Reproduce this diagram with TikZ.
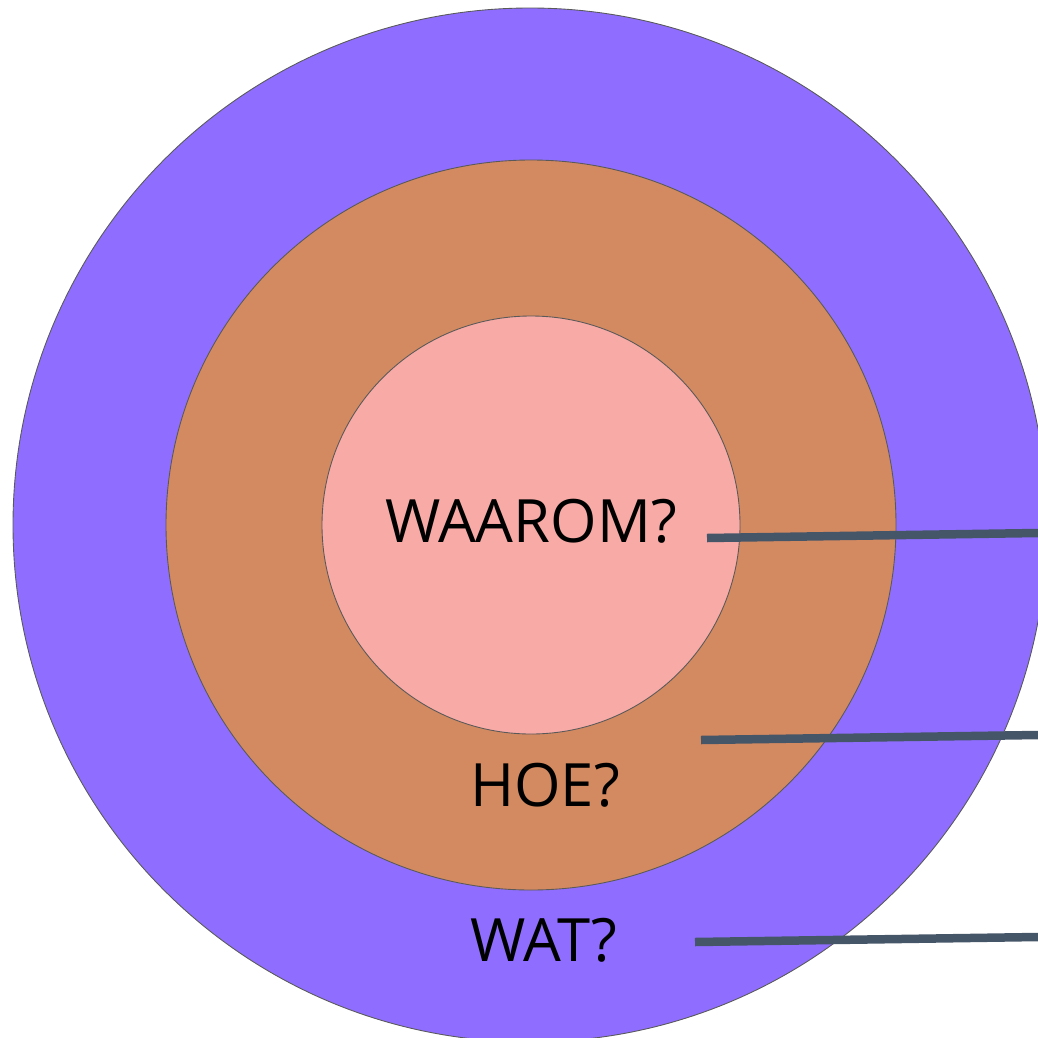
\documentclass[tikz,border=0pt]{standalone}
\usepackage{fontspec}
\setmainfont{Open Sans}
\usepackage{tikz}

\definecolor{watpurple}{HTML}{8F6EFF}
\definecolor{hoeorange}{HTML}{D38A60}
\definecolor{waarompink}{HTML}{F7AAA6}
\definecolor{leaderline}{HTML}{465669}

\begin{document}
\begin{tikzpicture}[x=0.02cm,y=-0.02cm,
    ring/.style={draw=black!65,line width=0.5pt},
    label/.style={font=\fontsize{34}{40}\selectfont,inner sep=0pt},
    leader/.style={draw=leaderline,line width=0.17cm}]
    \useasboundingbox (0,0) rectangle (1038,1038);
    \clip (0,0) rectangle (1038,1038);

    \filldraw [ring,fill=watpurple] (530,525) circle (517);
    \filldraw [ring,fill=hoeorange] (531,525) circle (365);
    \filldraw [ring,fill=waarompink] (531,525) circle (209);

    \node [label] (waarom) at (531,521) {WAAROM?};
    \node [label] (hoe) at (545,785) {HOE?};
    \node [label] (wat) at (544,940) {WAT?};

    \coordinate (waaromstart) at (707,538);
    \coordinate (waaromend) at (1038,533);
    \coordinate (hoestart) at (701,740);
    \coordinate (hoeend) at (1038,735);
    \coordinate (watstart) at (695,942);
    \coordinate (watend) at (1038,937);

    \foreach \n in {waarom,hoe,wat}
      \draw [leader] (\n start) -- (\n end);
  \end{tikzpicture}
\end{document}
